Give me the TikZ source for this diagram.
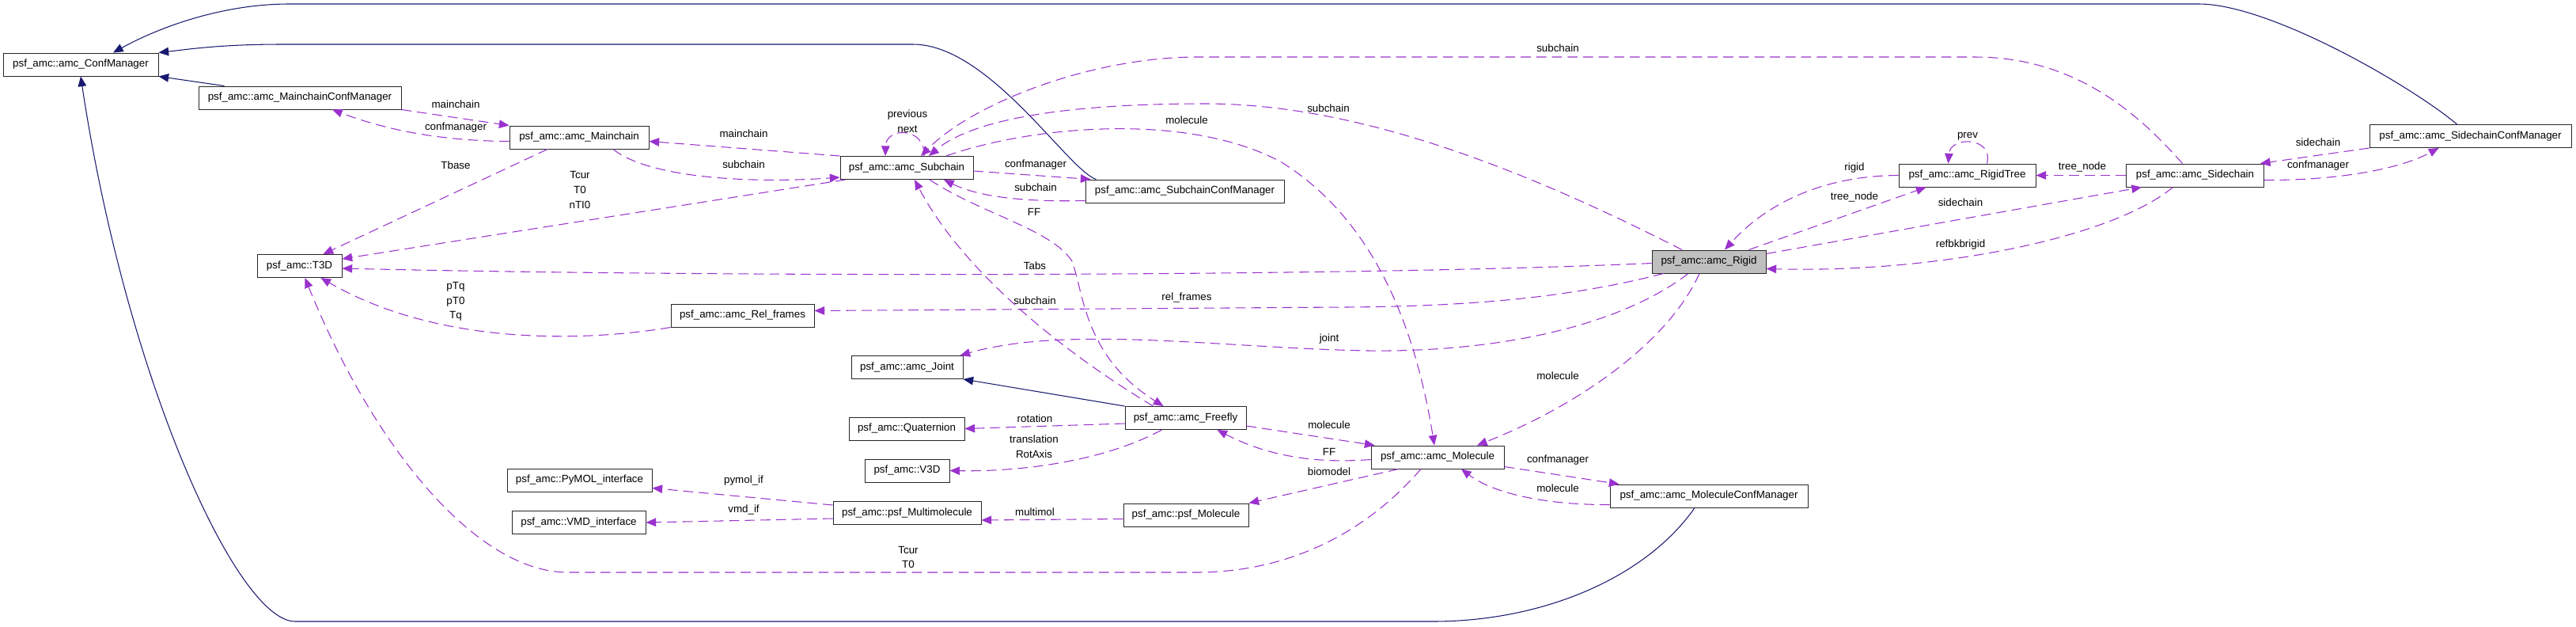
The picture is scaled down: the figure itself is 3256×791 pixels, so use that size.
\documentclass[tikz,border=0pt]{standalone}
\usepackage{fontspec}
\setmainfont{Liberation Sans}
\usetikzlibrary{arrows.meta,calc}

\definecolor{relcol}{HTML}{9A32CD}
\definecolor{inhcol}{HTML}{191970}
\definecolor{selcol}{HTML}{BFBFBF}

\tikzset{
  cls/.style={draw=black!85, line width=0.7pt, fill=white, inner sep=0pt,
    minimum height=0.725cm, minimum width=#1*0.025cm,
    font=\fontsize{9.5}{12}\selectfont},
  lbl/.style={inner sep=0pt, align=center, font=\fontsize{9.5}{13.2}\selectfont},
  rel/.style={draw=relcol, line width=0.75pt, dash pattern=on 9pt off 5pt,
    -{Triangle[length=9pt,width=7.5pt,fill=relcol]}},
  inh/.style={draw=inhcol, line width=0.75pt,
    -{Triangle[length=9pt,width=7.5pt,fill=inhcol]}},
}

\begin{document}
\begin{tikzpicture}[x=0.025cm, y=-0.025cm]
    \useasboundingbox (0,0) rectangle (3256,791);

    % classes
    \node[cls=196] (conf) at (102,81.5) {psf\_amc::amc\_ConfManager};
    \node[cls=256] (mccm) at (379,123.5) {psf\_amc::amc\_MainchainConfManager};
    \node[cls=176] (mainchain) at (732,173.5) {psf\_amc::amc\_Mainchain};
    \node[cls=107] (t3d) at (378.5,336) {psf\_amc::T3D};
    \node[cls=168] (subchain) at (1146,212) {psf\_amc::amc\_Subchain};
    \node[cls=251] (sccm) at (1497.5,241.5) {psf\_amc::amc\_SubchainConfManager};
    \node[cls=181] (relframes) at (938.5,398.5) {psf\_amc::amc\_Rel\_frames};
    \node[cls=141] (joint) at (1146.5,464) {psf\_amc::amc\_Joint};
    \node[cls=146] (quat) at (1146,541.5) {psf\_amc::Quaternion};
    \node[cls=107] (v3d) at (1146.5,594.5) {psf\_amc::V3D};
    \node[cls=187] (multimol) at (1146.5,648) {psf\_amc::psf\_Multimolecule};
    \node[cls=183] (pymol) at (732.5,606.5) {psf\_amc::PyMOL\_interface};
    \node[cls=169] (vmd) at (731.5,660) {psf\_amc::VMD\_interface};
    \node[cls=153] (freefly) at (1498.5,528) {psf\_amc::amc\_Freefly};
    \node[cls=168] (molecule) at (1817,577.5) {psf\_amc::amc\_Molecule};
    \node[cls=158] (psfmol) at (1499,650.5) {psf\_amc::psf\_Molecule};
    \node[cls=250] (mocm) at (2160,626.5) {psf\_amc::amc\_MoleculeConfManager};
    \node[cls=144, fill=selcol] (rigid) at (2160,330.5) {psf\_amc::amc\_Rigid};
    \node[cls=173] (rigidtree) at (2486.5,221.5) {psf\_amc::amc\_RigidTree};
    \node[cls=174] (sidechain) at (2774.5,221.5) {psf\_amc::amc\_Sidechain};
    \node[cls=255] (scm) at (3122.5,172) {psf\_amc::amc\_SidechainConfManager};

    % inheritance
    \draw[inh] ($(scm.north)+(-17,0)$) .. controls (3050,110) and (2870,5) .. (2779,5)
        -- (366,5) .. controls (280,5) and (200,35) .. ($(conf.north)+(41,0)$);
    \draw[inh] ($(sccm.north west)+(14,0)$) .. controls (1350,215) and (1250,56) .. (1154,56)
        -- (357,56) .. controls (280,56) and (240,62) .. (conf.north east);
    \draw[inh] ($(mccm.north west)+(33,0)$) -- (conf.south east);
    \draw[inh] ($(mocm.south)+(-18,0)$) .. controls (2080,730) and (1950,785) .. (1811,785)
        -- (373,785) .. controls (300,785) and (160,480) .. (conf.south);
    \draw[inh] (freefly.north west) -- (joint.south east);

    % usage
    \draw[rel] (mccm.south east) -- (mainchain.north west);
    \draw[rel] ($(mainchain.west)+(0,5)$) .. controls (560,178) and (490,165) .. ($(mccm.south)+(41,0)$);
    \draw[rel] ($(mainchain.south)+(-40,0)$) -- ($(t3d.north)+(30,0)$);
    \draw[rel] (subchain.north west) -- ($(mainchain.east)+(0,5)$);
    \draw[rel] ($(mainchain.south)+(43,0)$) .. controls (820,225) and (950,232) .. ($(subchain.west)+(0,12)$);
    \draw[rel] ($(subchain.south west)+(7,0)$) -- ($(t3d.east)+(0,-9)$);
    \draw[rel] ($(subchain.north)+(22,0)$) .. controls (1170,160) and (1120,160) .. ($(subchain.north)+(-27,0)$);
    \draw[rel] ($(subchain.east)+(0,4)$) -- ($(sccm.north west)+(7,0)$);
    \draw[rel] ($(sccm.west)+(0,12)$) .. controls (1300,255) and (1240,250) .. ($(subchain.south)+(47,0)$);
    \draw[rel] ($(subchain.south)+(29,0)$) .. controls (1240,270) and (1330,290) .. (1355,330)
        .. controls (1370,370) and (1370,450) .. ($(freefly.north)+(-28,0)$);
    \draw[rel] ($(freefly.north)+(-41,0)$) .. controls (1320,430) and (1210,330) .. ($(subchain.south)+(10,0)$);
    \draw[rel] ($(rigid.north)+(-34,0)$) .. controls (1900,200) and (1700,131) .. (1523,131)
        .. controls (1350,131) and (1230,150) .. ($(subchain.north)+(28,0)$);
    \draw[rel] ($(sidechain.north)+(-16,0)$) .. controls (2700,140) and (2620,72) .. (2496,72)
        -- (1514,72) .. controls (1380,72) and (1230,130) .. ($(subchain.north)+(18,0)$);
    \draw[rel] ($(subchain.north)+(50,0)$) .. controls (1300,160) and (1500,140) .. (1620,205)
        .. controls (1740,280) and (1790,420) .. ($(molecule.north)+(-4,0)$);
    \draw[rel] ($(rigid.south)+(-12,0)$) .. controls (2110,430) and (2000,510) .. ($(molecule.north)+(50,0)$);
    \draw[rel] ($(rigid.west)+(0,2)$) .. controls (1700,350) and (900,350) .. ($(t3d.east)+(0,3)$);
    \draw[rel] ($(rigid.south west)+(15,0)$) .. controls (2000,372) and (1880,387) .. (1700,388)
        -- ($(relframes.east)+(0,-6)$);
    \draw[rel] ($(rigid.south)+(-26,0)$) .. controls (2050,410) and (1900,445) .. (1729,443)
        .. controls (1550,440) and (1350,410) .. ($(joint.north east)+(-4,0)$);
    \draw[rel] (rigidtree.west) .. controls (2300,222) and (2230,260) .. ($(rigid.north)+(20,0)$);
    \draw[rel] ($(rigid.north east)+(-22,0)$) -- ($(rigidtree.south west)+(35,0)$);
    \draw[rel] ($(rigid.east)+(0,-10)$) -- ($(sidechain.south west)+(20,0)$);
    \draw[rel] ($(sidechain.south)+(-28,0)$) .. controls (2670,300) and (2450,345) .. ($(rigid.east)+(0,9)$);
    \draw[rel] ($(rigidtree.north)+(25,0)$) .. controls (2520,172) and (2465,172) .. ($(rigidtree.north)+(-24,0)$);
    \draw[rel] (sidechain.west) -- (rigidtree.east);
    \draw[rel] (scm.south west) -- ($(sidechain.north east)+(-5,0)$);
    \draw[rel] ($(sidechain.east)+(0,6)$) .. controls (2950,228) and (3030,215) .. ($(scm.south)+(-40,0)$);
    \draw[rel] ($(freefly.east)+(0,10)$) -- ($(molecule.north west)+(5,0)$);
    \draw[rel] ($(molecule.west)+(0,3)$) .. controls (1660,586) and (1600,575) .. ($(freefly.south)+(40,0)$);
    \draw[rel] ($(molecule.south west)+(35,0)$) -- (psfmol.north east);
    \draw[rel] ($(freefly.west)+(0,7)$) -- (quat.east);
    \draw[rel] ($(freefly.south)+(-30,0)$) .. controls (1400,580) and (1300,596) .. (v3d.east);
    \draw[rel] ($(psfmol.west)+(0,5)$) -- ($(multimol.east)+(0,9)$);
    \draw[rel] ($(multimol.north west)+(0,5)$) -- ($(pymol.east)+(0,10)$);
    \draw[rel] ($(multimol.west)+(0,7)$) -- (vmd.east);
    \draw[rel] ($(molecule.south)+(-21,0)$) .. controls (1720,680) and (1620,723) .. (1512,723)
        -- (718,723) .. controls (600,723) and (470,560) .. ($(t3d.south)+(7,0)$);
    \draw[rel] (relframes.south west) .. controls (750,430) and (560,440) .. ($(t3d.south)+(27,0)$);
    \draw[rel] ($(molecule.east)+(0,12)$) -- ($(mocm.north west)+(12,0)$);
    \draw[rel] ($(mocm.west)+(0,11)$) .. controls (1960,638) and (1890,625) .. ($(molecule.south)+(30,0)$);

    % labels
    \node[lbl] (l-mainchain-a) at (576,132) {mainchain};
    \node[lbl] (l-confmanager-a) at (576,161) {confmanager};
    \node[lbl] (l-tbase) at (576,209) {Tbase};
    \node[lbl] (l-ptq) at (576,381) {pTq\\pT0\\Tq};
    \node[lbl] (l-mainchain-b) at (940,169) {mainchain};
    \node[lbl] (l-subchain-a) at (940,208) {subchain};
    \node[lbl] (l-tcur-a) at (733,240) {Tcur\\T0\\nTI0};
    \node[lbl] (l-prevnext) at (1147,153) {previous\\next};
    \node[lbl] (l-confmanager-b) at (1309,208) {confmanager};
    \node[lbl] (l-subchain-b) at (1309,237) {subchain};
    \node[lbl] (l-ff-a) at (1307,268) {FF};
    \node[lbl] (l-tabs) at (1308,336) {Tabs};
    \node[lbl] (l-subchain-c) at (1308,380) {subchain};
    \node[lbl] (l-relframes) at (1500,376) {rel\_frames};
    \node[lbl] (l-molecule-a) at (1500,152) {molecule};
    \node[lbl] (l-subchain-d) at (1679,137) {subchain};
    \node[lbl] (l-subchain-e) at (1969,61) {subchain};
    \node[lbl] (l-rigid) at (2344,212) {rigid};
    \node[lbl] (l-treenode-a) at (2344,249) {tree\_node};
    \node[lbl] (l-sidechain-a) at (2478,256) {sidechain};
    \node[lbl] (l-refbk) at (2478,309) {refbkbrigid};
    \node[lbl] (l-prev) at (2487,172) {prev};
    \node[lbl] (l-treenode-b) at (2632,211) {tree\_node};
    \node[lbl] (l-sidechain-b) at (2930,180) {sidechain};
    \node[lbl] (l-confmanager-c) at (2930,209) {confmanager};
    \node[lbl] (l-rotation) at (1308,529) {rotation};
    \node[lbl] (l-translation) at (1307,564) {translation\\RotAxis};
    \node[lbl] (l-pymol) at (940,607) {pymol\_if};
    \node[lbl] (l-vmd) at (940,644) {vmd\_if};
    \node[lbl] (l-multimol) at (1308,647) {multimol};
    \node[lbl] (l-molecule-b) at (1680,537) {molecule};
    \node[lbl] (l-ff-b) at (1680,571) {FF};
    \node[lbl] (l-biomodel) at (1680,596) {biomodel};
    \node[lbl] (l-joint) at (1680,428) {joint};
    \node[lbl] (l-tcur-b) at (1148,704) {Tcur\\T0};
    \node[lbl] (l-molecule-c) at (1969,475) {molecule};
    \node[lbl] (l-confmanager-d) at (1969,581) {confmanager};
    \node[lbl] (l-molecule-d) at (1969,617) {molecule};

\end{tikzpicture}
\end{document}
